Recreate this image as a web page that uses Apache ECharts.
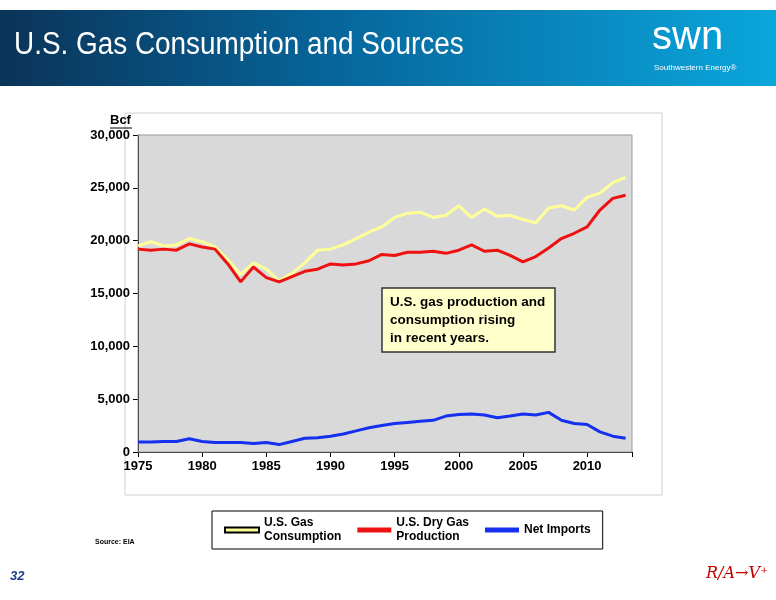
<!DOCTYPE html>
<html><head><meta charset="utf-8">
<script src="https://cdn.jsdelivr.net/npm/echarts@6/dist/echarts.min.js"></script>
<style>html,body{margin:0;padding:0;background:#fff}#c{width:776px;height:600px}</style>
</head><body><div id="c"></div>
<script>
const years = [];
for (let y = 1975; y <= 2013; y++) years.push(y);
const consumption = [19.5,19.9,19.5,19.6,20.2,19.9,19.4,18.2,16.8,17.9,17.3,16.2,16.9,17.9,19.1,19.2,19.6,20.2,20.8,21.3,22.2,22.6,22.7,22.2,22.4,23.3,22.2,23.0,22.3,22.4,22.0,21.7,23.1,23.3,22.9,24.1,24.5,25.5,26.0];
const production = [19.2,19.1,19.2,19.1,19.7,19.4,19.2,17.8,16.1,17.5,16.5,16.1,16.6,17.1,17.3,17.8,17.7,17.8,18.1,18.7,18.6,18.9,18.9,19.0,18.8,19.1,19.6,19.0,19.1,18.6,18.0,18.5,19.3,20.2,20.7,21.3,22.9,24.0,24.3];
const netImports = [0.95,0.95,1.0,1.0,1.25,1.0,0.9,0.9,0.9,0.8,0.9,0.7,1.0,1.3,1.35,1.5,1.7,2.0,2.3,2.5,2.7,2.8,2.9,3.0,3.4,3.55,3.6,3.5,3.25,3.4,3.6,3.5,3.75,3.0,2.7,2.6,1.9,1.5,1.3];
const seriesNames = ['U.S. Gas\nConsumption','U.S. Dry Gas\nProduction','Net Imports'];
const pair = arr => years.map((y,i)=>[y, Math.round(arr[i]*1000)]);
const chart = echarts.init(document.getElementById('c'));
const F = 'Arial, "Liberation Sans", sans-serif';
chart.setOption({
  animation:false,
  textStyle:{fontFamily:F},
  graphic:[
    {type:'rect',shape:{x:0,y:10,width:776,height:76},style:{fill:new echarts.graphic.LinearGradient(0,0,1,0,[{offset:0,color:'#0b3358'},{offset:0.45,color:'#06689e'},{offset:1,color:'#0aa6dc'}])},z:0},
    {type:'text',left:14,top:30,scaleX:0.9,style:{text:'U.S. Gas Consumption and Sources',fill:'#fff',font:'31px '+F},z:1},
    {type:'text',left:652,top:18,style:{text:'swn',fill:'#fff',font:'40px '+F},z:1},
    {type:'text',left:654,top:64,style:{text:'Southwestern Energy®',fill:'#fff',font:'8px '+F},z:1},
    {type:'rect',shape:{x:125,y:113,width:537,height:382},style:{fill:'#fff',stroke:'#d0d0d0',lineWidth:1},z:-1},
    {type:'rect',shape:{x:138,y:135,width:494,height:317},style:{fill:'none',stroke:'#999',lineWidth:1},z:3},
    {type:'text',left:110,top:114,style:{text:'Bcf',fill:'#000',font:'bold 13px '+F},z:5},
    {type:'line',shape:{x1:110,y1:128,x2:132,y2:128},style:{stroke:'#000',lineWidth:1},z:5},
    {type:'rect',shape:{x:382,y:288,width:173,height:64},style:{fill:'#ffffcc',stroke:'#333',lineWidth:1.5},z:5},
    {type:'text',left:390,top:293,style:{text:'U.S. gas production and\nconsumption rising\nin recent years.',fill:'#000',font:'bold 13.5px '+F,lineHeight:18},z:6},
    {type:'text',left:95,top:539,style:{text:'Source: EIA',fill:'#000',font:'bold 7px '+F},z:5},
    {type:'text',left:10,top:570,style:{text:'32',fill:'#1f3f8f',font:'italic bold 13px '+F},z:5},
    {type:'text',left:706,top:566,style:{text:'R/A→V⁺',fill:'#c00000',font:'italic 16px "DejaVu Serif", serif'},z:5}
  ],
  legend:{
    left:212,top:511,width:394,
    data:seriesNames,
    itemWidth:34,itemHeight:5,itemGap:16,
    backgroundColor:'#fff',borderColor:'#000',borderWidth:1,padding:[5,12,5,12],
    textStyle:{fontWeight:'bold',fontSize:12,color:'#000',lineHeight:14},
    icon:'rect'
  },
  grid:{left:138,top:135,width:494,height:317},
  xAxis:{type:'value',min:1975,max:2013.5,interval:5,
    axisLine:{lineStyle:{color:'#000'}},axisTick:{show:true,length:5,lineStyle:{color:'#000'}},
    axisLabel:{color:'#000',fontWeight:'bold',fontSize:13,formatter:v=>v%5===0?String(v):''},
    splitLine:{show:false}},
  yAxis:{type:'value',min:0,max:30000,interval:5000,
    axisLine:{show:true,lineStyle:{color:'#000'}},axisTick:{show:true,length:5,lineStyle:{color:'#000'}},
    axisLabel:{color:'#000',fontWeight:'bold',fontSize:13,formatter:v=>v.toLocaleString('en-US')},
    splitLine:{show:false},
    splitArea:{show:true,areaStyle:{color:['#d9d9d9','#d9d9d9']}}},
  series:[
    {name:seriesNames[0],type:'line',data:pair(consumption),showSymbol:false,lineStyle:{color:'#ffff99',width:3},itemStyle:{color:'#ffff99',borderColor:'#000',borderWidth:1}},
    {name:seriesNames[1],type:'line',data:pair(production),showSymbol:false,lineStyle:{color:'#ee1111',width:3},itemStyle:{color:'#ee1111'}},
    {name:seriesNames[2],type:'line',data:pair(netImports),showSymbol:false,lineStyle:{color:'#1530ee',width:3},itemStyle:{color:'#1530ee'}}
  ]
});
</script></body></html>
